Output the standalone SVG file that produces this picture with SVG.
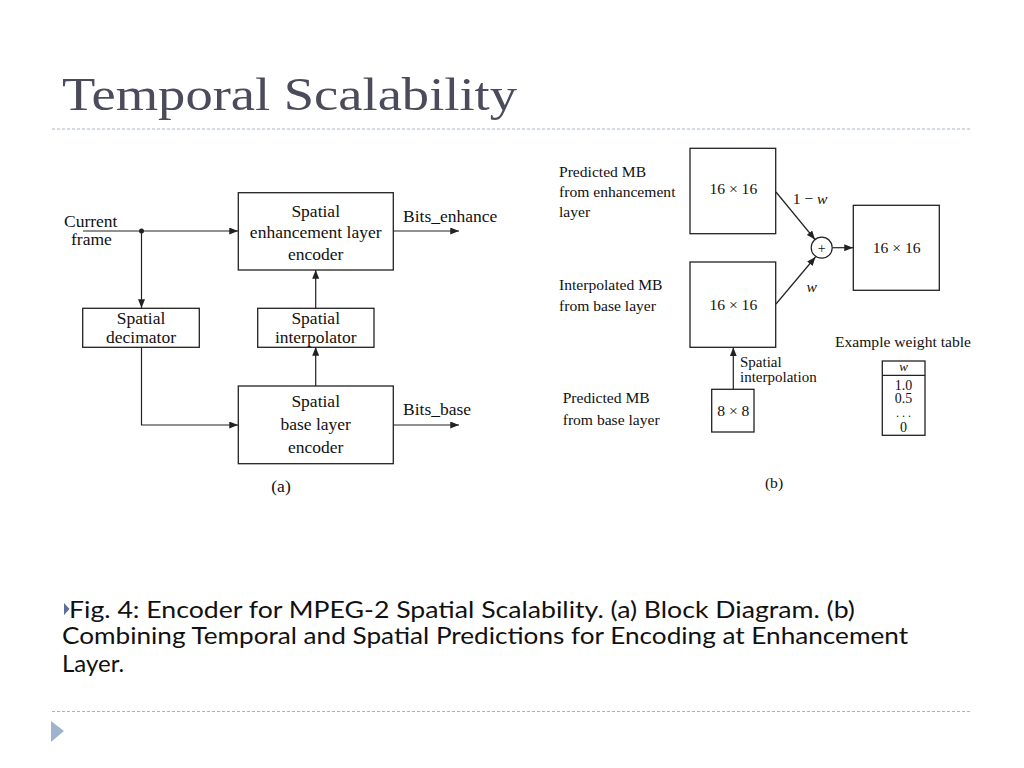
<svg xmlns="http://www.w3.org/2000/svg" width="1024" height="768" viewBox="0 0 1024 768">
<defs>
<style>
.t{font-family:"Liberation Serif","Times New Roman",serif;fill:#111;}
.a{font-size:17.5px;}
.b{font-size:15.6px;}
.box{fill:none;stroke:#222;stroke-width:1.3;}
.ln{fill:none;stroke:#222;stroke-width:1.2;}
.dash{stroke:#a8b4c4;stroke-width:1;stroke-dasharray:3 2;}
.cap{font-family:"Lato","Open Sans","Liberation Sans",sans-serif;font-size:24px;fill:#111;}
</style>
<marker id="ar" viewBox="0 0 10 8" refX="10" refY="4" markerWidth="9" markerHeight="7" markerUnits="userSpaceOnUse" orient="auto">
<path d="M0,0 L10,4 L0,8 z" fill="#222"/>
</marker>
</defs>
<rect width="1024" height="768" fill="#fff"/>
<text x="62" y="110" font-family="Liberation Serif, serif" font-size="47" fill="#4b4b5b" textLength="455" lengthAdjust="spacingAndGlyphs">Temporal Scalability</text>
<line class="dash" x1="52" y1="129" x2="972" y2="129"/>
<line class="dash" x1="52" y1="711.5" x2="972" y2="711.5"/>
<polygon points="51,721 64,731 51,742" fill="#9fb4cc"/>

<g id="connectors">
<line class="ln" x1="83" y1="231" x2="238" y2="231" marker-end="url(#ar)"/>
<circle cx="141.5" cy="231" r="2.5" fill="#222"/>
<line class="ln" x1="141.5" y1="231" x2="141.5" y2="308" marker-end="url(#ar)"/>
<polyline class="ln" points="141.5,347 141.5,425 238,425" marker-end="url(#ar)"/>
<line class="ln" x1="393" y1="231" x2="459" y2="231" marker-end="url(#ar)"/>
<line class="ln" x1="393" y1="425" x2="459" y2="425" marker-end="url(#ar)"/>
<line class="ln" x1="315.7" y1="308" x2="315.7" y2="270" marker-end="url(#ar)"/>
<line class="ln" x1="315.7" y1="386" x2="315.7" y2="347" marker-end="url(#ar)"/>
<line class="ln" x1="776" y1="192" x2="815" y2="239.5" marker-end="url(#ar)"/>
<line class="ln" x1="776" y1="304" x2="815.5" y2="257" marker-end="url(#ar)"/>
<line class="ln" x1="832.5" y1="247.7" x2="853" y2="247.7" marker-end="url(#ar)"/>
<line class="ln" x1="733.3" y1="389" x2="733.3" y2="347.5" marker-end="url(#ar)"/>
</g>

<g id="labels-a">
<text class="t a" x="64" y="226.5">Current</text>
<text class="t a" x="71" y="245">frame</text>
<text class="t a" x="403" y="221.5">Bits_enhance</text>
<text class="t a" x="403" y="415">Bits_base</text>
<text class="t a" x="281" y="492" text-anchor="middle" font-size="15.5">(a)</text>
</g>

<g id="enh">
<rect class="box" x="238.3" y="192.7" width="155" height="77.3"/>
<text class="t a" x="315.7" y="216.5" text-anchor="middle">Spatial</text>
<text class="t a" x="315.7" y="238" text-anchor="middle">enhancement layer</text>
<text class="t a" x="315.7" y="260" text-anchor="middle">encoder</text>
</g>
<g id="dec">
<rect class="box" x="82.7" y="308.3" width="116.6" height="39"/>
<text class="t a" x="141" y="323.5" text-anchor="middle">Spatial</text>
<text class="t a" x="141" y="342.5" text-anchor="middle">decimator</text>
</g>
<g id="interp">
<rect class="box" x="257.7" y="308.3" width="116.3" height="39"/>
<text class="t a" x="315.7" y="323.5" text-anchor="middle">Spatial</text>
<text class="t a" x="315.7" y="342.5" text-anchor="middle">interpolator</text>
</g>
<g id="base">
<rect class="box" x="238.3" y="386" width="155" height="77.7"/>
<text class="t a" x="315.7" y="406.5" text-anchor="middle">Spatial</text>
<text class="t a" x="315.7" y="430" text-anchor="middle">base layer</text>
<text class="t a" x="315.7" y="453.3" text-anchor="middle">encoder</text>
</g>

<g id="labels-b">
<text class="t b" x="559" y="176.5">Predicted MB</text>
<text class="t b" x="559" y="197.3">from enhancement</text>
<text class="t b" x="559" y="217.3">layer</text>
<text class="t b" x="559" y="290">Interpolated MB</text>
<text class="t b" x="559" y="310.7">from base layer</text>
<text class="t b" x="562.7" y="403.3">Predicted MB</text>
<text class="t b" x="562.7" y="425">from base layer</text>
<text class="t" x="740" y="367" font-size="15">Spatial</text>
<text class="t" x="740" y="382" font-size="15">interpolation</text>
<text class="t b" x="792.7" y="204">1 − <tspan font-style="italic">w</tspan></text>
<text class="t b" x="811.7" y="291.7" text-anchor="middle" font-style="italic">w</text>
<text class="t b" x="835" y="346.7">Example weight table</text>
<text class="t b" x="774" y="488.3" text-anchor="middle">(b)</text>
</g>

<g id="mb1">
<rect class="box" x="690" y="148.3" width="85.7" height="85.4"/>
<text class="t b" x="733.3" y="194.3" text-anchor="middle">16 × 16</text>
</g>
<g id="mb2">
<rect class="box" x="690" y="262" width="85.7" height="85.3"/>
<text class="t b" x="733.3" y="310" text-anchor="middle">16 × 16</text>
</g>
<g id="mb3">
<rect class="box" x="853.3" y="205.3" width="86" height="85"/>
<text class="t b" x="896.7" y="253.3" text-anchor="middle">16 × 16</text>
</g>
<g id="sum">
<circle cx="821.7" cy="247.7" r="10.5" fill="#fff" stroke="#222" stroke-width="1.2"/>
<text class="t" x="821.7" y="252.5" text-anchor="middle" font-size="14">+</text>
</g>
<g id="mb8">
<rect class="box" x="711.7" y="389.3" width="42.3" height="42.7"/>
<text class="t b" x="733.3" y="416" text-anchor="middle">8 × 8</text>
</g>
<g id="table">
<rect class="box" x="882.3" y="361" width="42.7" height="74.3"/>
<line class="ln" x1="882.3" y1="375.3" x2="925" y2="375.3"/>
<text class="t" x="903.5" y="371" text-anchor="middle" font-size="13" font-style="italic">w</text>
<text class="t" x="903.5" y="389.5" text-anchor="middle" font-size="14">1.0</text>
<text class="t" x="903.5" y="402.5" text-anchor="middle" font-size="14">0.5</text>
<text class="t" x="903.5" y="417" text-anchor="middle" font-size="12">. . .</text>
<text class="t" x="903.5" y="431.7" text-anchor="middle" font-size="14">0</text>
</g>

<g id="caption">
<polygon points="64,603 69.5,609 64,615" fill="#5d6f98"/>
<text class="cap" x="69" y="617.5" textLength="786" lengthAdjust="spacingAndGlyphs">Fig. 4: Encoder for MPEG-2 Spatial Scalability. (a) Block Diagram. (b)</text>
<text class="cap" x="62" y="644" textLength="846" lengthAdjust="spacingAndGlyphs">Combining Temporal and Spatial Predictions for Encoding at Enhancement</text>
<text class="cap" x="62" y="671.5">Layer.</text>
</g>
</svg>
